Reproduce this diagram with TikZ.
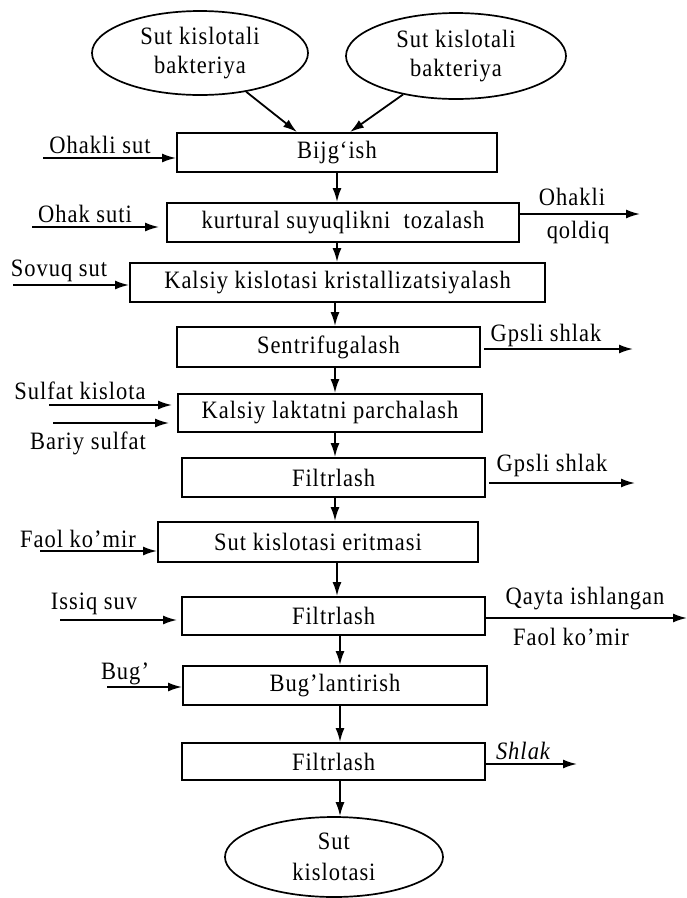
\documentclass[tikz,border=0pt]{standalone}
\usepackage{fontspec}
\setmainfont{Liberation Serif}[LetterSpace=4.0,FakeStretch=0.9]
\usetikzlibrary{arrows.meta,shapes.geometric,calc}
\begin{document}
\begin{tikzpicture}[x=1pt,y=-1pt,
  txt/.style={font=\fontsize{25}{29}\selectfont, inner sep=0pt},
  stagebox/.style={txt, draw, line width=1.9pt, rectangle},
  blob/.style={txt, draw, line width=1.7pt, ellipse, align=center},
  flow/.style={line width=1.8pt, -{Latex[length=14pt,width=9pt]}}
]
\useasboundingbox (0,0) rectangle (687,898);

% sources and product
\node[blob, minimum width=216, minimum height=84] (e1) at (200,53) {Sut kislotali\\bakteriya};
\node[blob, minimum width=220, minimum height=86] (e2) at (456,56) {Sut kislotali\\bakteriya};
\node[blob, minimum width=218, minimum height=80, font=\fontsize{25}{31}\selectfont] (e3) at (334,857) {Sut\\kislotasi};

% process stages
\node[stagebox, minimum width=320, minimum height=39] (b1) at (337,152.5) {Bijg‘ish};
\node[stagebox, minimum width=352, minimum height=39] (b2) at (343,222.5) {kurtural suyuqlikni\ \ tozalash};
\node[stagebox, minimum width=415, minimum height=39] (b3) at (337.5,282.5) {Kalsiy kislotasi kristallizatsiyalash};
\node[stagebox, minimum width=303, minimum height=40] (b4) at (328.5,347) {Sentrifugalash};
\node[stagebox, minimum width=304, minimum height=38] (b5) at (330,413) {Kalsiy laktatni parchalash};
\node[stagebox, minimum width=303, minimum height=39] (b6) at (333.5,477.5) {Filtrlash};
\node[stagebox, minimum width=320, minimum height=40] (b7) at (318,542) {Sut kislotasi eritmasi};
\node[stagebox, minimum width=303, minimum height=38] (b8) at (333.5,616) {Filtrlash};
\node[stagebox, minimum width=304, minimum height=39] (b9) at (335,685.5) {Bug’lantirish};
\node[stagebox, minimum width=303, minimum height=37] (b10) at (333.5,761.5) {Filtrlash};

% bacteria into fermentation
\draw[flow] (e1.-40) -- ($(b1.north)+(-40,0)$);
\draw[flow] (e2.-144) -- ($(b1.north)+(13,0)$);

% main line
\coordinate (c1) at (337,0);
\coordinate (c2) at (335,0);
\coordinate (c3) at (340,0);
\draw[flow] (b1.south -| c1) -- (b2.north -| c1);
\draw[flow] (b2.south -| c1) -- (b3.north -| c1);
\draw[flow] (b3.south -| c2) -- (b4.north -| c2);
\draw[flow] (b4.south -| c2) -- (b5.north -| c2);
\draw[flow] (b5.south -| c2) -- (b6.north -| c2);
\draw[flow] (b6.south -| c2) -- (b7.north -| c2);
\draw[flow] (b7.south -| c1) -- (b8.north -| c1);
\draw[flow] (b8.south -| c3) -- (b9.north -| c3);
\draw[flow] (b9.south -| c3) -- (b10.north -| c3);
\draw[flow] (b10.south -| c3) -- (e3.north -| c3);

% inputs
\node[txt] (l1) at (100,145) {Ohakli sut};
\coordinate (s1) at (43,158);
\draw[flow] (s1) -- (s1 -| b1.west);

\node[txt] (l2) at (85,214) {Ohak suti};
\coordinate (s2) at (32,227);
\draw[flow, shorten >=7pt] (s2) -- (s2 -| b2.west);

\node[txt] (l3) at (59,271) {Sovuq sut};
\coordinate (s3) at (13,285);
\draw[flow] (s3) -- (s3 -| b3.west);

\node[txt] (l4) at (80,391) {Sulfat kislota};
\coordinate (s4) at (49,405);
\draw[flow, shorten >=5pt] (s4) -- (s4 -| b5.west);

\node[txt] (l5) at (88,443) {Bariy sulfat};
\coordinate (s5) at (53,423);
\draw[flow, shorten >=8pt] (s5) -- (s5 -| b5.west);

\node[txt] (l6) at (78,539) {Faol ko’mir};
\coordinate (s6) at (40,551);
\draw[flow] (s6) -- (s6 -| b7.west);

\node[txt] (l7) at (94,604) {Issiq suv};
\coordinate (s7) at (60,620);
\draw[flow, shorten >=4pt] (s7) -- (s7 -| b8.west);

\node[txt] (l8) at (125,674) {Bug’};
\coordinate (s8) at (107,687);
\draw[flow] (s8) -- (s8 -| b9.west);

% outputs
\node[txt] (r1a) at (572,197) {Ohakli};
\node[txt] (r1b) at (578,232) {qoldiq};
\coordinate (o1) at (640,214);
\draw[flow] (o1 -| b2.east) -- (o1);

\node[txt] (r2) at (546,335) {Gpsli shlak};
\coordinate (o2) at (633,349);
\draw[flow] (o2 -| b4.east) ++(3,0) -- (o2);

\node[txt] (r3) at (552,465) {Gpsli shlak};
\coordinate (o3) at (635,483);
\draw[flow] (o3 -| b6.east) ++(3,0) -- (o3);

\node[txt] (r4a) at (585,599) {Qayta ishlangan};
\node[txt] (r4b) at (571,637) {Faol ko’mir};
\coordinate (o4) at (687,618);
\draw[flow] (o4 -| b8.east) -- (o4);

\node[txt, font=\fontsize{25}{29}\selectfont\itshape] (r5) at (523,751) {Shlak};
\coordinate (o5) at (577,764);
\draw[flow] (o5 -| b10.east) -- (o5);
\end{tikzpicture}
\end{document}
